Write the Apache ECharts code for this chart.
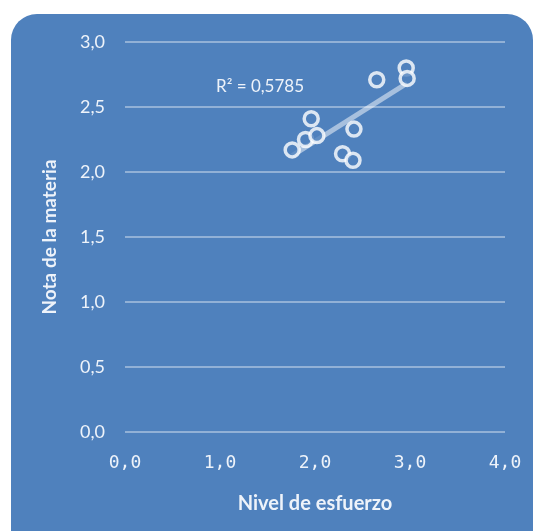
<!DOCTYPE html>
<html>
<head>
<meta charset="utf-8">
<script src="https://cdn.jsdelivr.net/npm/echarts@6/dist/echarts.min.js"></script>
<style>
    html, body { margin: 0; padding: 0; background: #ffffff; }
    #chart { width: 536px; height: 531px; }
</style>
</head>
<body>
<div id="chart"></div>
<script>
// esfuerzo (x) y nota (y)
var esfuerzo = [1.76, 1.90, 1.96, 2.02, 2.29, 2.40, 2.41, 2.65, 2.96, 2.97]
var nota = [2.17, 2.25, 2.41, 2.28, 2.14, 2.09, 2.33, 2.71, 2.80, 2.72]
var xTicks = ['0,0', '1,0', '2,0', '3,0', '4,0']
var yTicks = ['0,0', '0,5', '1,0', '1,5', '2,0', '2,5', '3,0']
var r2Text = 'R² = 0,5785'

var puntos = esfuerzo.map(function (x, i) { return [x, nota[i]] })

// linea de tendencia (minimos cuadrados)
var n = esfuerzo.length
var mx = esfuerzo.reduce(function (a, b) { return a + b }, 0) / n
var my = nota.reduce(function (a, b) { return a + b }, 0) / n
var sxy = 0, sxx = 0
for (var i = 0; i < n; i++) {
    sxy += (esfuerzo[i] - mx) * (nota[i] - my)
    sxx += (esfuerzo[i] - mx) * (esfuerzo[i] - mx)
}
var pendiente = sxy / sxx
var xMin = Math.min.apply(null, esfuerzo)
var xMax = Math.max.apply(null, esfuerzo)
var tendencia = [
    [xMin, my + pendiente * (xMin - mx)],
    [xMax, my + pendiente * (xMax - mx)]
]

var chart = echarts.init(document.getElementById('chart'))
var white = '#eef3fa'
chart.setOption({
    animation: false,
    graphic: [
        {
            type: 'rect',
            z: -10,
            shape: { x: 11, y: 14, width: 522, height: 560, r: 26 },
            style: { fill: '#4f81bd' }
        },
        {
            type: 'text',
            left: 216,
            top: 78,
            style: {
                text: r2Text,
                fill: white,
                font: '17px Lato'
            }
        }
    ],
    grid: {
        left: 125,
        right: 31,
        top: 42,
        bottom: 99
    },
    xAxis: {
        type: 'value',
        min: 0,
        max: 4,
        interval: 1,
        name: 'Nivel de esfuerzo',
        nameLocation: 'middle',
        nameGap: 62,
        nameTextStyle: { color: white, fontFamily: 'Lato', fontWeight: 'bold', fontSize: 20 },
        axisLine: { show: false },
        axisTick: { show: false },
        splitLine: { show: false },
        axisLabel: {
            margin: 22,
            color: white,
            fontFamily: 'DejaVu Sans Mono',
            fontSize: 18,
            formatter: function (v) { return xTicks[Math.round(v)] }
        }
    },
    yAxis: {
        type: 'value',
        min: 0,
        max: 3,
        interval: 0.5,
        name: 'Nota de la materia',
        nameLocation: 'middle',
        nameGap: 66,
        nameTextStyle: { color: white, fontFamily: 'Lato', fontWeight: 'bold', fontSize: 19 },
        axisLine: { show: false },
        axisTick: { show: false },
        splitLine: { lineStyle: { color: 'rgba(255,255,255,0.38)', width: 2 } },
        axisLabel: {
            margin: 20,
            color: white,
            fontFamily: 'Lato',
            fontSize: 18,
            formatter: function (v) { return yTicks[Math.round(v * 2)] }
        }
    },
    series: [
        {
            type: 'line',
            data: tendencia,
            symbol: 'none',
            silent: true,
            z: 1,
            lineStyle: { color: 'rgba(255,255,255,0.5)', width: 5 }
        },
        {
            type: 'scatter',
            data: puntos,
            symbol: 'circle',
            symbolSize: 14,
            z: 3,
            itemStyle: {
                color: '#4f81bd',
                borderColor: '#ffffff',
                borderWidth: 3.5
            }
        }
    ]
})
</script>
</body>
</html>
